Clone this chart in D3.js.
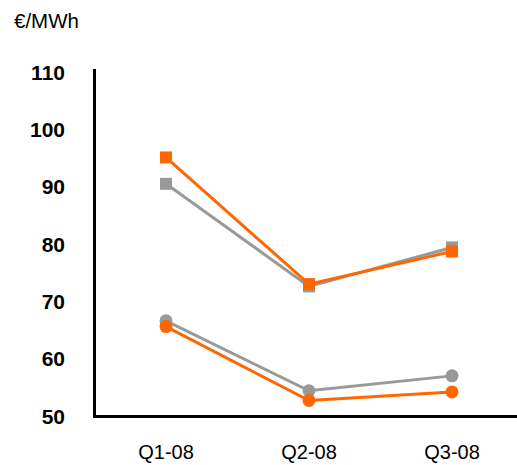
<!DOCTYPE html>
<html>
<head>
<meta charset="utf-8">
<script src="https://cdn.jsdelivr.net/npm/d3@7"></script>
<style>
html,body{margin:0;padding:0;background:#fff;}
svg{display:block;}
</style>
</head>
<body>
<svg id="chart" width="517" height="465"></svg>
<script>
const categories = ["Q1-08", "Q2-08", "Q3-08"];
const grayLowValues = [66.6, 54.4, 57.0];
const orangeLowValues = [65.6, 52.7, 54.2];
const graySquareValues = [90.5, 72.6, 79.4];
const orangeSquareValues = [95.1, 73.0, 78.7];
const yTicks = [50, 60, 70, 80, 90, 100, 110];
const unitLabel = "€/MWh";

const series = [
  {values: graySquareValues, color: "#999999", marker: "square"},
  {values: grayLowValues, color: "#999999", marker: "circle"},
  {values: orangeSquareValues, color: "#FF6600", marker: "square"},
  {values: orangeLowValues, color: "#FF6600", marker: "circle"}
];

const svg = d3.select("#chart");
const x = d3.scaleBand().domain(categories).range([94.5, 523.5]);
const y = d3.scaleLinear().domain([50, 110]).range([416, 72]);

// axes lines
svg.append("line").attr("x1", 94.5).attr("x2", 94.5).attr("y1", 69).attr("y2", 417.5)
  .attr("stroke", "#000").attr("stroke-width", 3);
svg.append("line").attr("x1", 93).attr("x2", 517).attr("y1", 416.5).attr("y2", 416.5)
  .attr("stroke", "#000").attr("stroke-width", 3);

// y tick labels
svg.append("g").selectAll("text").data(yTicks).join("text")
  .attr("x", 65).attr("y", d => y(d)).attr("dy", "0.36em")
  .attr("text-anchor", "end")
  .attr("font-family", "Liberation Sans, Arial, sans-serif")
  .attr("font-weight", "bold").attr("font-size", 21)
  .text(d => d);

// x labels
svg.append("g").selectAll("text").data(categories).join("text")
  .attr("x", d => x(d) + x.bandwidth() / 2).attr("y", 452).attr("dy", "0.36em")
  .attr("text-anchor", "middle")
  .attr("font-family", "Liberation Sans, Arial, sans-serif")
  .attr("font-size", 20)
  .text(d => d);

// unit label
svg.append("text").attr("x", 14).attr("y", 21).attr("dy", "0.36em")
  .attr("font-family", "Liberation Sans, Arial, sans-serif")
  .attr("font-size", 20.5).text(unitLabel);

const line = d3.line()
  .x((d, i) => x(categories[i]) + x.bandwidth() / 2)
  .y(d => y(d));

series.forEach(s => {
  const g = svg.append("g");
  g.append("path").datum(s.values).attr("d", line)
    .attr("fill", "none").attr("stroke", s.color).attr("stroke-width", 3);
  if (s.marker === "square") {
    g.selectAll("rect").data(s.values).join("rect")
      .attr("x", (d, i) => x(categories[i]) + x.bandwidth() / 2 - 6)
      .attr("y", d => y(d) - 6)
      .attr("width", 12).attr("height", 12).attr("fill", s.color);
  } else {
    g.selectAll("circle").data(s.values).join("circle")
      .attr("cx", (d, i) => x(categories[i]) + x.bandwidth() / 2)
      .attr("cy", d => y(d)).attr("r", 6.5).attr("fill", s.color);
  }
});
</script>
</body>
</html>
